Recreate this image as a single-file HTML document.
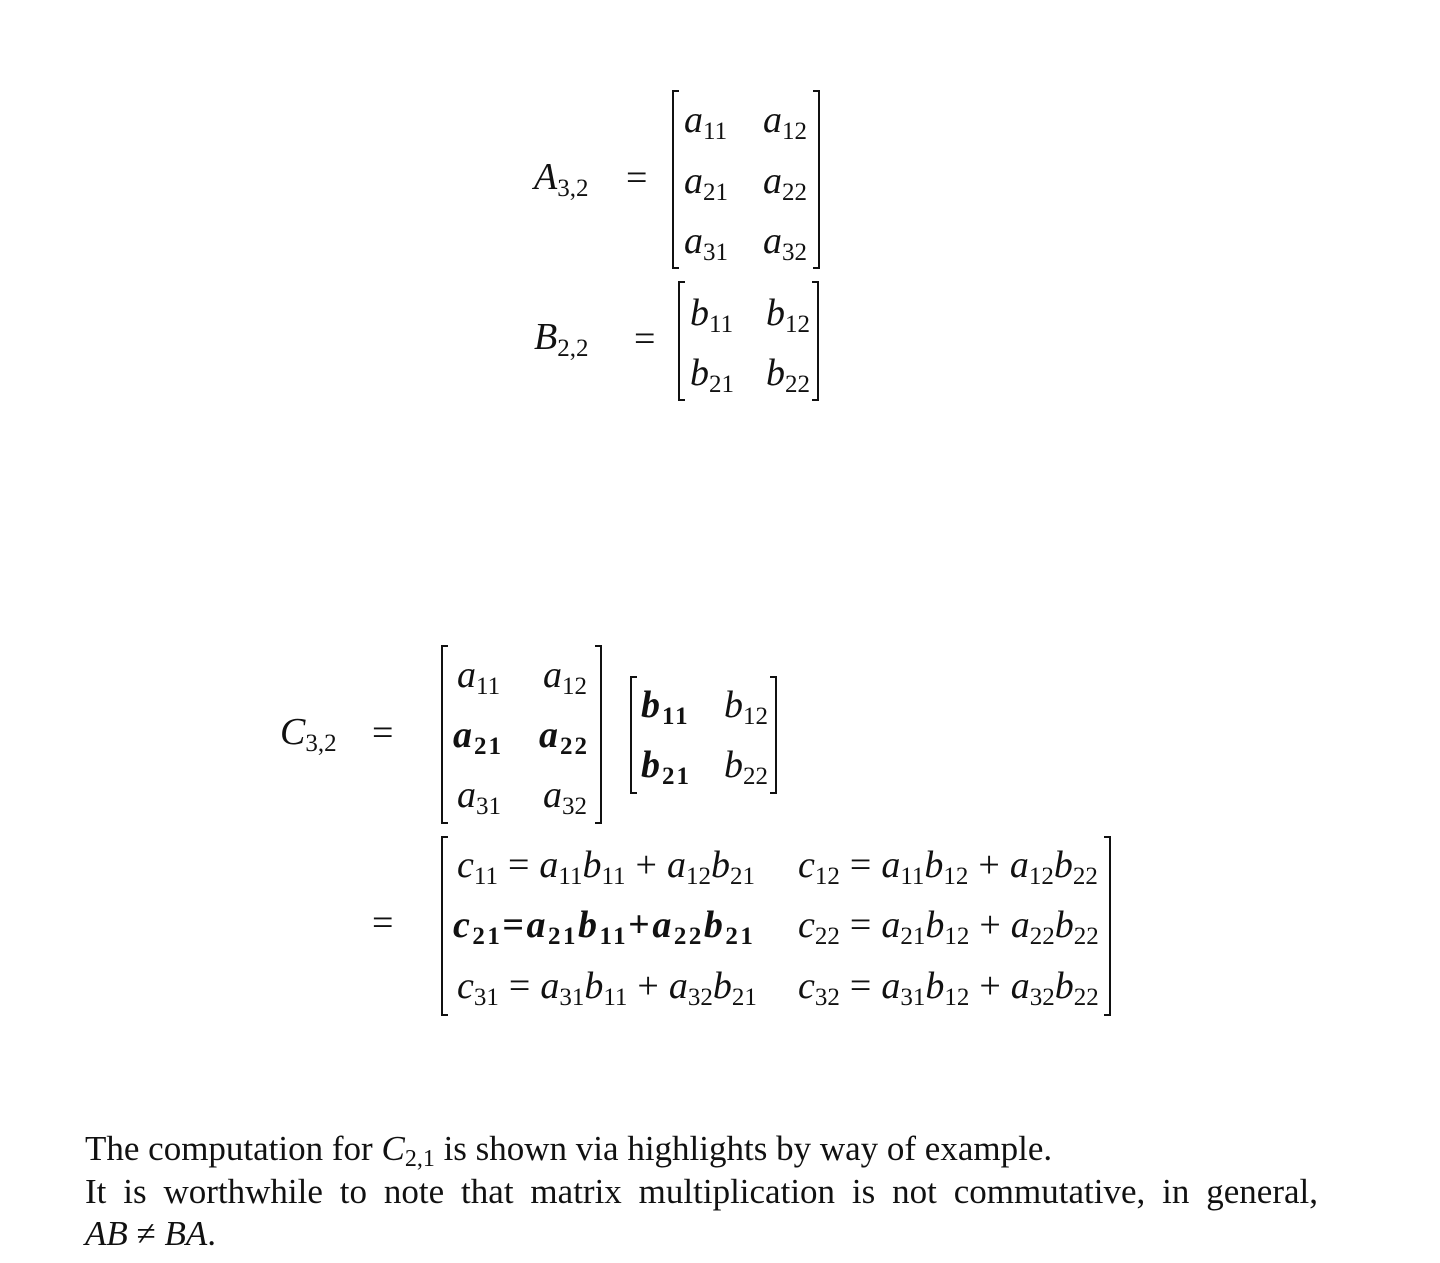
<!DOCTYPE html>
<html><head><meta charset="utf-8"><style>
body{margin:0;width:1440px;height:1263px;background:#fff;position:relative;overflow:hidden;font-family:"Liberation Serif",serif;color:#111}
.t{position:absolute;font-size:38px;line-height:1;white-space:nowrap}
.t i{font-style:italic}
.t sub{font-size:25px;vertical-align:-7px;line-height:0}
.b{font-weight:bold}
.op{margin:0 10px}
.bl,.br{position:absolute;border:2px solid #111;width:5px}
.bl{border-right:none}.br{border-left:none}
.p{position:absolute;font-size:35px;line-height:1;left:85px;white-space:nowrap}
.p i{font-style:italic}
.p sub{font-size:24px;vertical-align:-6px;line-height:0}
</style></head><body>
<div>
<div class="t" style="left:534px;top:158px"><i>A</i><sub>3,2</sub></div>
<div class="t" style="left:626px;top:159px">=</div>
<div class="bl" style="left:672px;top:90px;height:175px"></div>
<div class="br" style="left:813px;top:90px;height:175px"></div>
<div class="t" style="left:684px;top:101px"><i>a</i><sub>11</sub></div>
<div class="t" style="left:763px;top:101px"><i>a</i><sub>12</sub></div>
<div class="t" style="left:684px;top:162px"><i>a</i><sub>21</sub></div>
<div class="t" style="left:763px;top:162px"><i>a</i><sub>22</sub></div>
<div class="t" style="left:684px;top:222px"><i>a</i><sub>31</sub></div>
<div class="t" style="left:763px;top:222px"><i>a</i><sub>32</sub></div>
</div>
<div>
<div class="t" style="left:534px;top:318px"><i>B</i><sub>2,2</sub></div>
<div class="t" style="left:634px;top:320px">=</div>
<div class="bl" style="left:678px;top:281px;height:116px"></div>
<div class="br" style="left:812px;top:281px;height:116px"></div>
<div class="t" style="left:690px;top:294px"><i>b</i><sub>11</sub></div>
<div class="t" style="left:766px;top:294px"><i>b</i><sub>12</sub></div>
<div class="t" style="left:690px;top:354px"><i>b</i><sub>21</sub></div>
<div class="t" style="left:766px;top:354px"><i>b</i><sub>22</sub></div>
</div>
<div>
<div class="t" style="left:280px;top:713px"><i>C</i><sub>3,2</sub></div>
<div class="t" style="left:372px;top:714px">=</div>
<div class="bl" style="left:441px;top:645px;height:175px"></div>
<div class="br" style="left:595px;top:645px;height:175px"></div>
<div class="t" style="left:457px;top:656px"><i>a</i><sub>11</sub></div>
<div class="t" style="left:543px;top:656px"><i>a</i><sub>12</sub></div>
<div class="t b" style="left:453px;top:716px;letter-spacing:2px"><i>a</i><sub>21</sub></div>
<div class="t b" style="left:539px;top:716px;letter-spacing:2px"><i>a</i><sub>22</sub></div>
<div class="t" style="left:457px;top:776px"><i>a</i><sub>31</sub></div>
<div class="t" style="left:543px;top:776px"><i>a</i><sub>32</sub></div>
<div class="bl" style="left:630px;top:676px;height:114px"></div>
<div class="br" style="left:770px;top:676px;height:114px"></div>
<div class="t b" style="left:641px;top:686px;letter-spacing:2px"><i>b</i><sub>11</sub></div>
<div class="t" style="left:724px;top:686px"><i>b</i><sub>12</sub></div>
<div class="t b" style="left:641px;top:746px;letter-spacing:2px"><i>b</i><sub>21</sub></div>
<div class="t" style="left:724px;top:746px"><i>b</i><sub>22</sub></div>
</div>
<div>
<div class="t" style="left:372px;top:904px">=</div>
<div class="bl" style="left:441px;top:836px;height:176px"></div>
<div class="br" style="left:1104px;top:836px;height:176px"></div>
<div class="t" style="left:457px;top:846px"><i>c</i><sub>11</sub><span class="op">=</span><i>a</i><sub>11</sub><i>b</i><sub>11</sub><span class="op">+</span><i>a</i><sub>12</sub><i>b</i><sub>21</sub></div>
<div class="t" style="left:798px;top:846px"><i>c</i><sub>12</sub><span class="op">=</span><i>a</i><sub>11</sub><i>b</i><sub>12</sub><span class="op">+</span><i>a</i><sub>12</sub><i>b</i><sub>22</sub></div>
<div class="t b" style="left:453px;top:906px;letter-spacing:2.5px"><i>c</i><sub>21</sub>=<i>a</i><sub>21</sub><i>b</i><sub>11</sub>+<i>a</i><sub>22</sub><i>b</i><sub>21</sub></div>
<div class="t" style="left:798px;top:906px"><i>c</i><sub>22</sub><span class="op">=</span><i>a</i><sub>21</sub><i>b</i><sub>12</sub><span class="op">+</span><i>a</i><sub>22</sub><i>b</i><sub>22</sub></div>
<div class="t" style="left:457px;top:967px"><i>c</i><sub>31</sub><span class="op">=</span><i>a</i><sub>31</sub><i>b</i><sub>11</sub><span class="op">+</span><i>a</i><sub>32</sub><i>b</i><sub>21</sub></div>
<div class="t" style="left:798px;top:967px"><i>c</i><sub>32</sub><span class="op">=</span><i>a</i><sub>31</sub><i>b</i><sub>12</sub><span class="op">+</span><i>a</i><sub>32</sub><i>b</i><sub>22</sub></div>
</div>
<div>
<div class="p" style="top:1131px">The computation for <i>C</i><sub>2,1</sub> is shown via highlights by way of example.</div>
<div class="p" style="top:1174px;width:1233px;text-align:justify;text-align-last:justify">It is worthwhile to note that matrix multiplication is not commutative, in general,</div>
<div class="p" style="top:1216px"><i>AB</i> ≠ <i>BA</i>.</div>
</div>
</body></html>
